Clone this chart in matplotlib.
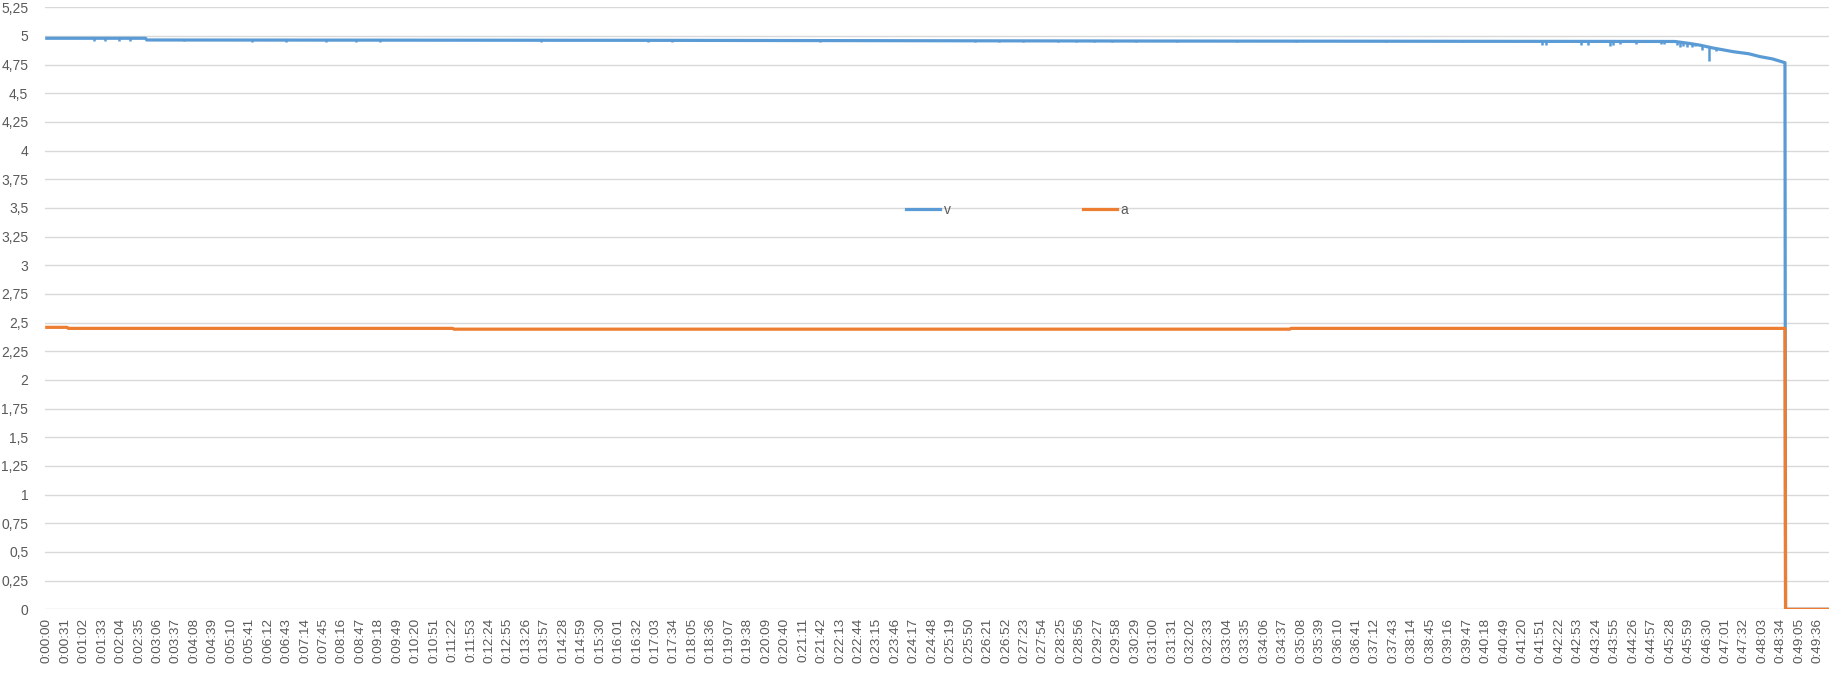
import numpy as np
import matplotlib.pyplot as plt

# voltage baseline (seconds from start, volts)
v_time = [0, 166, 168, 1000, 1800, 2736, 2760, 2778, 2800, 2834, 2860, 2879, 2900, 2921, 2922, 2995]
v_vals = [4.98, 4.98, 4.965, 4.962, 4.956, 4.952, 4.935, 4.92, 4.895, 4.863, 4.845, 4.82, 4.80, 4.767, 0, 0]

# short glitches in the voltage trace: time, lowest value, top value
dip_time = [80, 97, 122, 140, 230, 345, 402, 470, 520, 560, 830, 1010, 1050, 1300, 1560,
            1600, 1640, 1700, 1730, 1760, 1790, 1830, 1900, 2000, 2100, 2250, 2380,
            2513, 2519, 2578, 2590, 2627, 2632, 2644, 2671, 2713, 2718,
            2740, 2745, 2750, 2756, 2765, 2770, 2782, 2793, 2805, 2812, 2825, 2844, 2851]
dip_low = [4.955, 4.955, 4.955, 4.96, 4.955, 4.95, 4.948, 4.95, 4.95, 4.95, 4.945, 4.948, 4.948, 4.945, 4.948,
           4.945, 4.948, 4.945, 4.948, 4.945, 4.948, 4.945, 4.945, 4.948, 4.948, 4.945, 4.945,
           4.925, 4.925, 4.925, 4.925, 4.915, 4.92, 4.93, 4.93, 4.93, 4.93,
           4.92, 4.905, 4.915, 4.90, 4.905, 4.91, 4.88, 4.78, 4.87, 4.885, 4.865, 4.87, 4.86]
dip_top = [4.98, 4.98, 4.98, 4.98, 4.965, 4.965, 4.965, 4.965, 4.965, 4.965, 4.963, 4.962, 4.962, 4.96, 4.958,
           4.958, 4.957, 4.957, 4.957, 4.956, 4.956, 4.956, 4.956, 4.955, 4.955, 4.954, 4.954,
           4.953, 4.953, 4.953, 4.953, 4.953, 4.953, 4.953, 4.953, 4.952, 4.952,
           4.95, 4.945, 4.94, 4.935, 4.93, 4.93, 4.915, 4.905, 4.89, 4.88, 4.872, 4.86, 4.855]

# current (seconds from start, amps)
a_time = [0, 34, 36, 682, 684, 2089, 2091, 2921, 2922, 2995]
a_vals = [2.459, 2.459, 2.45, 2.45, 2.443, 2.443, 2.45, 2.45, 0, 0]

tick_step = 31
tick_last = 2976

def fmt(s):
    return "%d:%02d:%02d" % (s // 3600, (s % 3600) // 60, s % 60)

ticks = list(range(0, tick_last + 1, tick_step))
tick_labels = [fmt(s) for s in ticks]

plt.rcParams['font.family'] = ['Liberation Sans', 'DejaVu Sans']

blue = "#5b9bd5"
orange = "#ed7d31"

fig = plt.figure(figsize=(18.29, 6.76), dpi=100)
ax = fig.add_axes([45 / 1829, 66.7 / 676, 1 - 45 / 1829, 602 / 676])

ax.plot(v_time, v_vals, color=blue, lw=2.3, label="v")
ax.vlines(dip_time, dip_low, dip_top, color=blue, lw=1.8)
ax.plot(a_time, a_vals, color=orange, lw=2.3, label="a")

ax.set_xlim(-3, 2995)
ax.set_ylim(0, 5.25)
yt = np.arange(0, 5.26, 0.25)
ax.set_yticks(yt)
ax.set_yticklabels([("%g" % y).replace(".", ",") for y in yt], fontsize=10, color="#595959")
ax.set_xticks(ticks)
ax.set_xticklabels(tick_labels, rotation=90, fontsize=9.7, color="#595959")
ax.tick_params(length=0)
ax.tick_params(axis="y", pad=12)
ax.tick_params(axis="x", pad=6)

ax.grid(axis="y", color="#d9d9d9", lw=1)
ax.set_axisbelow(True)
for s in ax.spines.values():
    s.set_visible(False)

ax.legend(loc="center", bbox_to_anchor=(0.545, 0.663), ncol=2, frameon=False,
          fontsize=10, handlelength=2.45, handletextpad=0.25, columnspacing=9.5,
          labelcolor="#595959")

fig.savefig("out.png", dpi=100)
